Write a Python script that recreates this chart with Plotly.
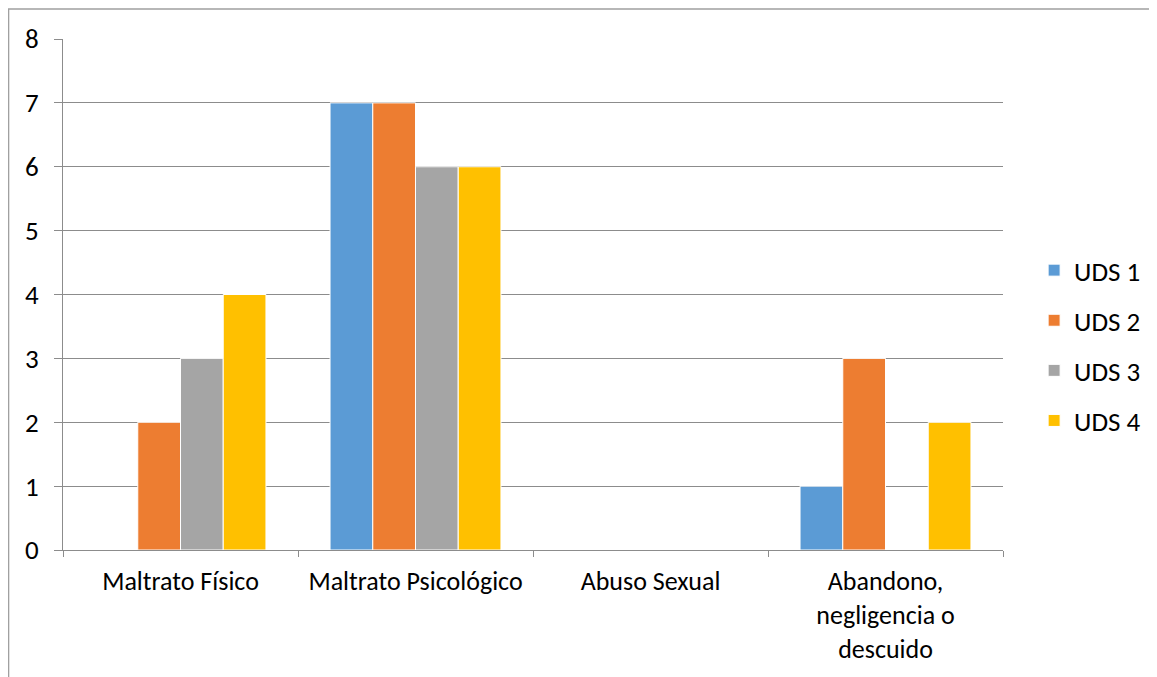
import plotly.graph_objects as go

categories = ["Maltrato Físico", "Maltrato Psicológico", "Abuso Sexual",
              "Abandono,<br>negligencia o<br>descuido"]
series_names = ["UDS 1", "UDS 2", "UDS 3", "UDS 4"]
uds1 = [0, 7, 0, 1]
uds2 = [2, 7, 0, 3]
uds3 = [3, 6, 0, 0]
uds4 = [4, 6, 0, 2]
y_ticks = [0, 1, 2, 3, 4, 5, 6, 7, 8]

colors = ["#5B9BD5", "#ED7D31", "#A5A5A5", "#FFC000"]
FONT = "Carlito, Calibri, Liberation Sans, Arial, sans-serif"

W, H = 1149, 669
L, T = 55, 31
PW, PH = 941, 511

fig = go.Figure()
for name, vals, col in zip(series_names, [uds1, uds2, uds3, uds4], colors):
    fig.add_trace(go.Bar(
        x=categories, y=vals, name=name, legendgroup=name,
        marker=dict(color=col, line=dict(color="white", width=1)),
    ))

fig.update_layout(
    width=W, height=H,
    margin=dict(l=L, r=W - L - PW, t=T, b=H - T - PH),
    paper_bgcolor="white", plot_bgcolor="white",
    barmode="group", bargap=0.2727, bargroupgap=0,
    font=dict(family=FONT, size=27, color="#000000"),
    showlegend=True,
    legend=dict(x=1.032, y=0.40, xanchor="left", yanchor="middle",
                traceorder="grouped", tracegroupgap=12,
                font=dict(size=27), itemwidth=30),
    xaxis=dict(
        showline=True, linecolor="#8C8C8C", linewidth=1,
        ticks="outside", tickson="boundaries", ticklen=6, tickcolor="#8C8C8C",
        showgrid=False, tickfont=dict(size=26), ticklabelstandoff=8,
    ),
    yaxis=dict(
        range=[0, 8], tickvals=y_ticks, showline=True, linecolor="#8C8C8C",
        linewidth=1, ticks="outside", ticklen=8, tickcolor="#8C8C8C",
        showgrid=True, gridcolor="#8C8C8C", gridwidth=1,
        zeroline=False, tickfont=dict(size=27), ticklabelstandoff=10,
    ),
    shapes=[dict(type="rect", xref="paper", yref="paper",
                 x0=(0.5 - L) / PW, x1=1.3, y0=-0.5, y1=(PH + T - 1) / PH,
                 line=dict(color="#A0A0A0", width=1.5), fillcolor="rgba(0,0,0,0)",
                 layer="below")],
)

fig.write_html("out.html")
